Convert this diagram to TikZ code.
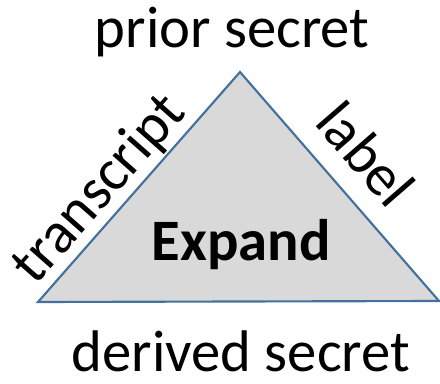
\documentclass[tikz,border=0pt]{standalone}
\usepackage{fontspec}
\setmainfont{Carlito}
\definecolor{edgeblue}{HTML}{41719C}
\definecolor{fillgray}{HTML}{D9D9D9}
\begin{document}
\begin{tikzpicture}[x=0.75pt,y=0.75pt,
  lbl/.style={inner sep=0pt,font=\fontsize{44}{52}\selectfont},
  boldlbl/.style={lbl,font=\fontsize{44}{52}\selectfont\bfseries}]
\useasboundingbox (0,0) rectangle (440,383);
% triangle corners (y measured from the bottom)
\coordinate (apex) at (240,311);
\coordinate (bl) at (38,81);
\coordinate (br) at (439,82);
\draw[edgeblue,fill=fillgray,line width=1.6pt,line join=miter] (apex) -- (br) -- (bl) -- cycle;
\node[lbl] (prior) at (232,351) {prior secret};
\node[lbl,rotate=48.6] (transcript) at (100,193) {transcript};
\node[lbl,rotate=-49] (label) at (366,229) {label};
\node[boldlbl] (expand) at (241,138) {Expand};
\node[lbl] (derived) at (241,32) {derived secret};
\end{tikzpicture}
\end{document}
